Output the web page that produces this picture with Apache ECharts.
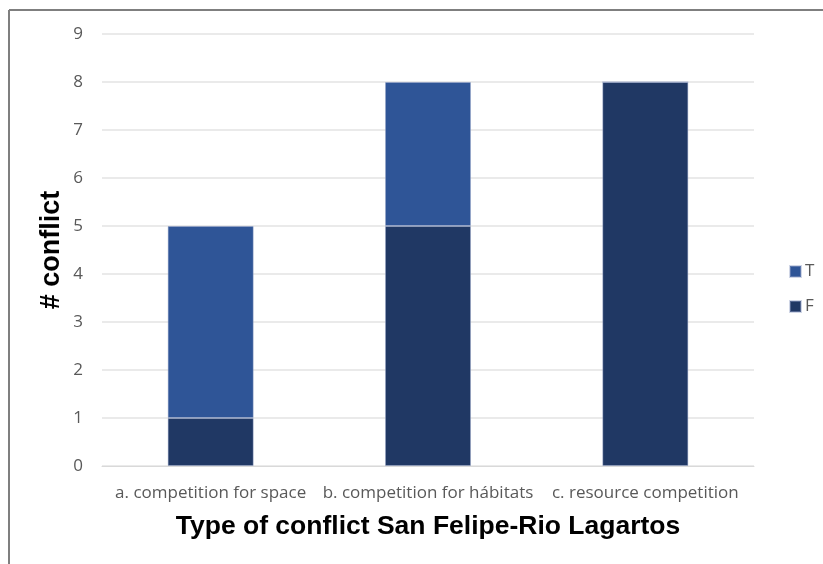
<!DOCTYPE html>
<html><head><meta charset="utf-8">
<script src="https://cdn.jsdelivr.net/npm/echarts@6/dist/echarts.min.js"></script>
<style>html,body{margin:0;padding:0;background:#fff}#c{width:823px;height:564px}</style>
</head><body><div id="c"></div>
<script>
const categories = ['a. competition for space', 'b. competition for hábitats', 'c. resource competition'];
const seriesF = [1, 5, 8];
const seriesT = [4, 3, 0];
const yTicks = [0, 9, 1];

const chart = echarts.init(document.getElementById('c'));
const labelFont = "'Open Sans', sans-serif";
const titleFont = "'Liberation Sans', Arial, sans-serif";
chart.setOption({
  animation: false,
  graphic: [
    {type: 'line', shape: {x1: 9, y1: 10, x2: 823, y2: 10}, style: {stroke: '#7f7f7f', lineWidth: 2}},
    {type: 'line', shape: {x1: 9, y1: 10, x2: 9, y2: 564}, style: {stroke: '#7f7f7f', lineWidth: 2}}
  ],
  grid: {left: 102, right: 69, top: 34, bottom: 98},
  legend: {
    orient: 'vertical', left: 784, top: 258, itemGap: 18,
    itemWidth: 11, itemHeight: 11, icon: 'rect',
    data: ['T', 'F'],
    textStyle: {color: '#595959', fontSize: 17, fontFamily: labelFont, padding: [0, 0, 0, -1]}
  },
  xAxis: {
    type: 'category', data: categories,
    name: 'Type of conflict San Felipe-Rio Lagartos', nameLocation: 'middle', nameGap: 47,
    nameMoveOverlap: false,
    nameTextStyle: {color: '#000', fontSize: 26.5, fontWeight: 'bold', fontFamily: titleFont},
    axisLine: {show: true, lineStyle: {color: '#d9d9d9'}},
    axisTick: {show: false},
    axisLabel: {color: '#595959', fontSize: 17, fontFamily: labelFont, margin: 19, interval: 0}
  },
  yAxis: {
    type: 'value', min: yTicks[0], max: yTicks[1], interval: yTicks[2],
    name: '# conflict', nameLocation: 'middle', nameGap: 37, nameRotate: 90,
    nameMoveOverlap: false,
    nameTextStyle: {color: '#000', fontSize: 27, fontWeight: 'bold', fontFamily: titleFont},
    axisLine: {show: false}, axisTick: {show: false},
    axisLabel: {color: '#595959', fontSize: 17, fontFamily: labelFont, margin: 19},
    splitLine: {lineStyle: {color: '#e3e3e3', width: 1.5}}
  },
  series: [
    {name: 'F', type: 'bar', stack: 's', data: seriesF, barWidth: 86,
     itemStyle: {color: '#203864', borderColor: 'rgba(150,165,200,0.45)', borderWidth: 1}},
    {name: 'T', type: 'bar', stack: 's', data: seriesT, barWidth: 86,
     itemStyle: {color: '#2f5597', borderColor: 'rgba(150,165,200,0.45)', borderWidth: 1}}
  ]
});
</script></body></html>
